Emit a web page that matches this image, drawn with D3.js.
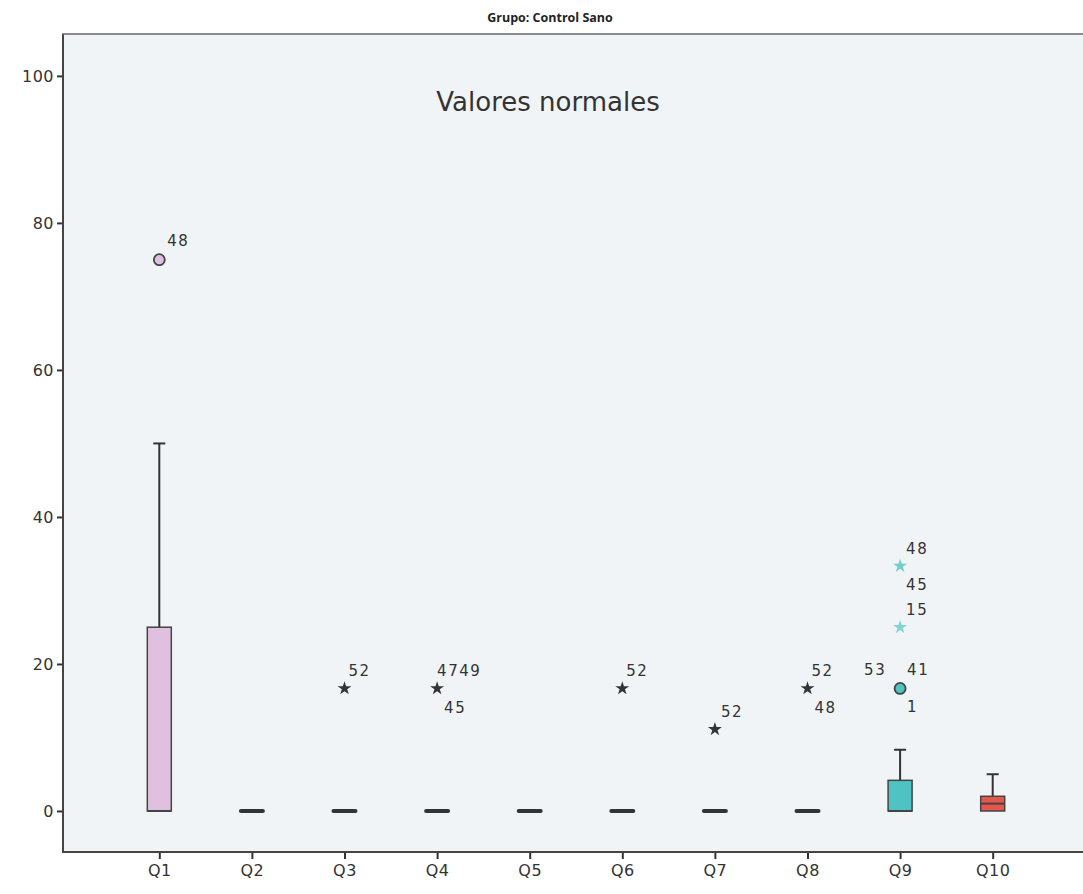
<!DOCTYPE html>
<html><head><meta charset="utf-8">
<script src="https://cdn.jsdelivr.net/npm/d3@7"></script>
<style>body{margin:0;background:#fff;} svg{display:block;}</style>
</head><body>
<script>
const categories = ["Q1","Q2","Q3","Q4","Q5","Q6","Q7","Q8","Q9","Q10"];
const boxMin    = [0,0,0,0,0,0,0,0,0,0];
const boxQ1     = [0,0,0,0,0,0,0,0,0,0];
const boxMedian = [0,0,0,0,0,0,0,0,0,1];
const boxQ3     = [25,0,0,0,0,0,0,0,4.17,2];
const boxMax    = [50,0,0,0,0,0,0,0,8.33,5];
const boxColors = ["#dfc1df","#444","#444","#444","#444","#444","#444","#444","#4fc3c3","#e8574d"];
// outliers: category, value, type, labels [text, dx, dy]
const outCat   = ["Q1","Q3","Q4","Q6","Q7","Q8","Q9","Q9","Q9"];
const outVal   = [75,16.67,16.67,16.67,11.11,16.67,16.67,25,33.33];
const outType  = ["circle","star","star","star","star","star","circle","star","star"];
const outLabels = [
  [["48",8,-14]],
  [["52",4,-12]],
  [["4749",0,-12],["45",7,25]],
  [["52",4,-12]],
  [["52",6,-12]],
  [["52",4,-12],["48",7,25]],
  [["53",-36,-13],["41",7,-13],["1",7,24]],
  [["15",6,-12]],
  [["48",6,-12],["45",6,24]]
];
const outColors = ["#dfc1df","#333","#333","#333","#333","#333","#4fc3c3","#7fd4d0","#6fcfca"];
const yTicks = [0,20,40,60,80,100];

const W = 1083, H = 894;
const L = 63, T = 34, B = 852, R = 1089;
const svg = d3.select("body").append("svg").attr("width", W).attr("height", H);
const font = "'DejaVu Sans', Verdana, sans-serif";

const x = d3.scalePoint().domain(categories).range([L, R]).padding(1.04);
const y = d3.scaleLinear().domain([-5.58, 105.7]).range([B, T]);

svg.append("rect").attr("x", L).attr("y", T).attr("width", W - L).attr("height", B - T).attr("fill", "#f1f4f7");

svg.append("text").attr("x", 550).attr("y", 22).attr("text-anchor","middle")
  .attr("font-family", "'Open Sans', 'DejaVu Sans', sans-serif").attr("font-weight","bold")
  .attr("font-size", 12.5).attr("fill","#222").text("Grupo: Control Sano");

svg.append("text").attr("x", 548).attr("y", 111).attr("text-anchor","middle")
  .attr("font-family", font).attr("font-size", 26).attr("fill","#333").text("Valores normales");

// axes
const yAxis = d3.axisLeft(y).tickValues(yTicks).tickSize(6).tickPadding(3);
const gy = svg.append("g").attr("transform", `translate(${L},0)`).call(yAxis);
gy.select(".domain").remove();
gy.selectAll("line").attr("stroke","#333").attr("stroke-width",2);
gy.selectAll("text").attr("font-family", font).attr("font-size", 16).attr("letter-spacing", 0.5).attr("fill","#333");

const xAxis = d3.axisBottom(x).tickSize(7).tickPadding(6);
const gx = svg.append("g").attr("transform", `translate(0,${B})`).call(xAxis);
gx.select(".domain").remove();
gx.selectAll("line").attr("stroke","#333").attr("stroke-width",2);
gx.selectAll("text").attr("font-family", font).attr("font-size", 16).attr("letter-spacing", 0.5).attr("fill","#333");

svg.append("line").attr("x1", L).attr("x2", L).attr("y1", T).attr("y2", B+1).attr("stroke","#444").attr("stroke-width",2);
svg.append("line").attr("x1", L-1).attr("x2", W).attr("y1", B).attr("y2", B).attr("stroke","#444").attr("stroke-width",2);
svg.append("line").attr("x1", L-1).attr("x2", W).attr("y1", T).attr("y2", T).attr("stroke","#666").attr("stroke-width",1.5);

// boxes
const bw = 24, cap = 12;
categories.forEach((c, i) => {
  const cx = x(c);
  const g = svg.append("g");
  if (boxQ3[i] === boxQ1[i] && boxMax[i] === boxMin[i]) {
    g.append("line").attr("x1", cx - bw/2 + 1).attr("x2", cx + bw/2 - 1)
      .attr("y1", y(boxMedian[i])).attr("y2", y(boxMedian[i]))
      .attr("stroke","#333").attr("stroke-width",4).attr("stroke-linecap","round");
    return;
  }
  g.append("line").attr("x1", cx).attr("x2", cx).attr("y1", y(boxQ3[i])).attr("y2", y(boxMax[i]))
    .attr("stroke","#333").attr("stroke-width",2);
  g.append("line").attr("x1", cx - cap/2).attr("x2", cx + cap/2).attr("y1", y(boxMax[i])).attr("y2", y(boxMax[i]))
    .attr("stroke","#333").attr("stroke-width",2);
  g.append("rect").attr("x", cx - bw/2).attr("y", y(boxQ3[i])).attr("width", bw)
    .attr("height", y(boxQ1[i]) - y(boxQ3[i])).attr("fill", boxColors[i])
    .attr("stroke","#444").attr("stroke-width",1.5);
  g.append("line").attr("x1", cx - bw/2).attr("x2", cx + bw/2).attr("y1", y(boxMedian[i])).attr("y2", y(boxMedian[i]))
    .attr("stroke","#444").attr("stroke-width",2);
});

// outliers
const star = d3.symbol().type(d3.symbolStar).size(60);
outCat.forEach((c, i) => {
  const cx = x(c), cy = y(outVal[i]);
  if (outType[i] === "circle") {
    svg.append("circle").attr("cx", cx).attr("cy", cy).attr("r", 5.5)
      .attr("fill", outColors[i]).attr("stroke","#444").attr("stroke-width",1.8);
  } else {
    svg.append("path").attr("d", star).attr("transform", `translate(${cx},${cy})`).attr("fill", outColors[i]);
  }
  outLabels[i].forEach(([t, dx, dy]) => {
    svg.append("text").attr("x", cx + dx).attr("y", cy + dy).attr("font-family", font)
      .attr("font-size", 15).attr("fill","#333").attr("letter-spacing", 1.5).text(t);
  });
});
</script>
</body></html>
